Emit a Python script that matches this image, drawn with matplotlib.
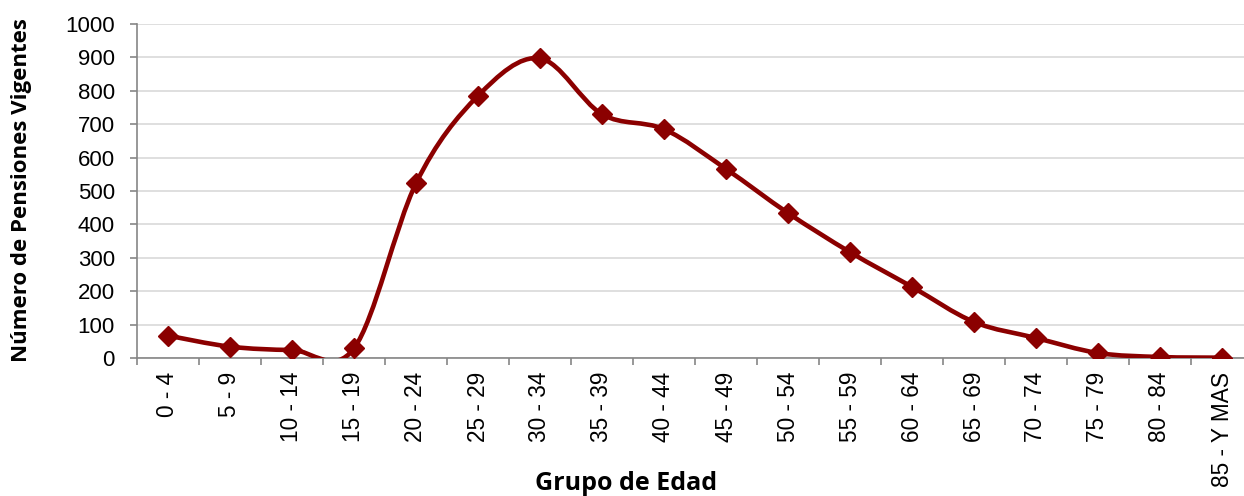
import matplotlib.pyplot as plt
from matplotlib.path import Path
from matplotlib.patches import PathPatch

# age groups and number of pensions
grupos = ["0 - 4", "5 - 9", "10 - 14", "15 - 19", "20 - 24", "25 - 29", "30 - 34",
          "35 - 39", "40 - 44", "45 - 49", "50 - 54", "55 - 59", "60 - 64",
          "65 - 69", "70 - 74", "75 - 79", "80 - 84", "85 - Y MAS"]
pensiones = [67, 34, 24, 29, 523, 785, 897, 730, 685, 566, 434, 317, 213,
             108, 60, 15, 3, 1]

color = "#8B0000"
gris = "#868686"

fig = plt.figure(figsize=(12.44, 4.96), dpi=100)
ax = fig.add_axes([137 / 1244, 138 / 496, 1116 / 1244, 334 / 496])

x = list(range(len(pensiones)))
y = pensiones

# Excel-like smoothed line: cubic bezier through the points
verts = [(x[0], y[0])]
codes = [Path.MOVETO]
n = len(x)
for i in range(n - 1):
    x0, y0 = (x[i - 1], y[i - 1]) if i > 0 else (x[i], y[i])
    x3, y3 = (x[i + 2], y[i + 2]) if i + 2 < n else (x[i + 1], y[i + 1])
    c1 = (x[i] + (x[i + 1] - x0) / 6, y[i] + (y[i + 1] - y0) / 6)
    c2 = (x[i + 1] - (x3 - x[i]) / 6, y[i + 1] - (y3 - y[i]) / 6)
    verts += [c1, c2, (x[i + 1], y[i + 1])]
    codes += [Path.CURVE4] * 3
ax.add_patch(PathPatch(Path(verts, codes), facecolor="none", edgecolor=color,
                       lw=3.3, capstyle="round", joinstyle="round", zorder=3))
ax.plot(x, y, linestyle="none", marker="D", markersize=10, color=color, zorder=4)

ax.set_xlim(-0.5, len(x) - 0.5)
ax.set_ylim(0, 1000)
ax.set_yticks(range(0, 1001, 100))
ax.set_xticks(x)
ax.set_xticklabels(grupos, rotation=90, va="top", ha="center")
ax.set_xticks([i - 0.5 for i in range(len(x) + 1)], minor=True)

ax.grid(axis="y", color="#D9D9D9", lw=1.2)
ax.set_axisbelow(True)
for s in ["top", "right"]:
    ax.spines[s].set_visible(False)
for s in ["left", "bottom"]:
    ax.spines[s].set_color(gris)
    ax.spines[s].set_linewidth(1.2)

ax.tick_params(axis="x", which="major", length=0, pad=10, labelsize=16.3)
ax.tick_params(axis="x", which="minor", length=5, color=gris, width=1.2)
ax.tick_params(axis="y", length=5, color=gris, width=1.2, pad=11, labelsize=16)
for lab in ax.get_xticklabels() + ax.get_yticklabels():
    lab.set_fontfamily("Liberation Sans")

fig.text(626 / 1244, 1 - 484 / 496, "Grupo de Edad", ha="center", va="center",
         fontsize=18, fontweight="bold", family="Open Sans")
fig.text(22 / 1244, 1 - 190 / 496, "Número de Pensiones Vigentes", ha="center",
         va="center", rotation=90, fontsize=16, fontweight="bold", family="Open Sans")

fig.savefig("out.png", dpi=100)
